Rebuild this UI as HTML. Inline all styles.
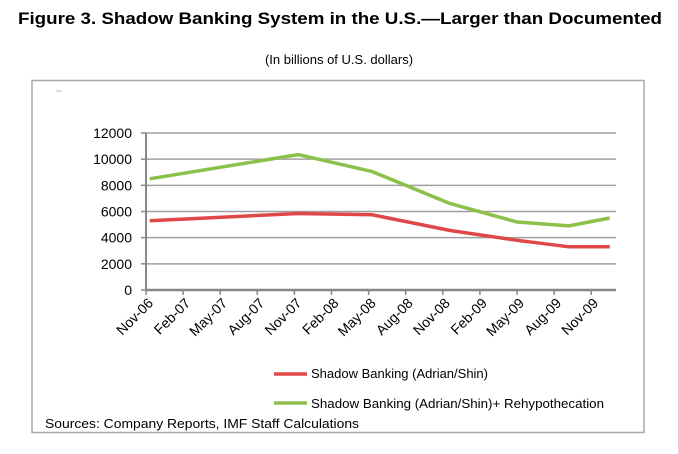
<!DOCTYPE html>
<html><head><meta charset="utf-8"><style>
body{margin:0;background:#fff;width:678px;height:454px;overflow:hidden}
svg{display:block}
</style></head><body>
<svg id="chart" width="678" height="454" xmlns="http://www.w3.org/2000/svg">
<text x="340" y="24" text-anchor="middle" font-family="Liberation Sans, sans-serif" font-weight="bold" font-size="16.3" textLength="644" lengthAdjust="spacingAndGlyphs">Figure 3. Shadow Banking System in the U.S.—Larger than Documented</text>
<text x="339" y="64" text-anchor="middle" font-family="Liberation Sans, sans-serif" font-size="13">(In billions of U.S. dollars)</text>
<rect x="32" y="80.5" width="612" height="352" fill="none" stroke="#aaa" stroke-width="1.5"/>
<line x1="56" y1="91" x2="62" y2="91" stroke="#bbb"/>
<g id="grid"></g><g id="axes"></g><g id="series"></g>
<g>
<line x1="274" y1="374" x2="307" y2="374" stroke="#e04848" stroke-width="3.5"/>
<text x="311" y="378" font-family="Liberation Sans, sans-serif" font-size="13" textLength="177" lengthAdjust="spacingAndGlyphs">Shadow Banking (Adrian/Shin)</text>
<line x1="274" y1="403" x2="307" y2="403" stroke="#8cc04a" stroke-width="3.5"/>
<text x="311" y="408" font-family="Liberation Sans, sans-serif" font-size="13" textLength="293" lengthAdjust="spacingAndGlyphs">Shadow Banking (Adrian/Shin)+ Rehypothecation</text>
</g>
<text x="45" y="428" font-family="Liberation Sans, sans-serif" font-size="13" textLength="314" lengthAdjust="spacingAndGlyphs">Sources: Company Reports, IMF Staff Calculations</text>
</svg>
<script>
const categories=["Nov-06","Feb-07","May-07","Aug-07","Nov-07","Feb-08","May-08","Aug-08","Nov-08","Feb-09","May-09","Aug-09","Nov-09"];
const yTicks=[0,2000,4000,6000,8000,10000,12000];
const redPos=[0.1,4.1,6.1,8.2,10.0,11.4,12.5];
const redVals=[5300,5850,5750,4550,3800,3300,3300];
const greenPos=[0.1,4.1,6.1,8.2,10.0,11.4,12.5];
const greenVals=[8500,10350,9050,6600,5200,4900,5500];
const NS="http://www.w3.org/2000/svg";
const X0=146,X1=616,Y0=290,Y1=133,STEP=37.1;
const xs=p=>X0+p*STEP;
const ys=v=>Y0-(v/12000)*(Y0-Y1);
function mk(tag,attrs,parent){const e=document.createElementNS(NS,tag);for(const k in attrs)e.setAttribute(k,attrs[k]);parent.appendChild(e);return e;}
const grid=document.getElementById('grid'),axes=document.getElementById('axes'),series=document.getElementById('series');
yTicks.forEach(v=>{
  if(v>0){const l=mk('line',{x1:X0,x2:X1,y1:ys(v),y2:ys(v),stroke:'#a0a0a0','stroke-width':1.5},grid);
  
  }
  const tk=mk('line',{x1:X0-5,x2:X0,y1:ys(v),y2:ys(v),stroke:'#888','stroke-width':1.5},axes);
  
  
  const t=mk('text',{x:X0-14,y:ys(v)+5,'text-anchor':'end','font-family':'Liberation Sans, sans-serif','font-size':'14'},axes);
  t.textContent=v;
  
  
});
const ya=mk('line',{x1:X0,x2:X0,y1:Y1,y2:Y0,stroke:'#888','stroke-width':2},axes);


const xa=mk('line',{x1:X0,x2:X1,y1:Y0,y2:Y0,stroke:'#888','stroke-width':2.5},axes);


categories.forEach((c,i)=>{
  const x=xs(i);
  const tk=mk('line',{x1:x,x2:x,y1:Y0,y2:Y0+5,stroke:'#888','stroke-width':1.5},axes);
  
  
  const ax=x+8,ay=Y0+14;
  const t=mk('text',{x:ax,y:ay,'text-anchor':'end','font-family':'Liberation Sans, sans-serif','font-size':'14',transform:'rotate(-45 '+ax+' '+ay+')'},axes);
  t.textContent=c;
  
  
});
function line(pos,vals,color,name){
  const pts=pos.map((p,i)=>xs(p).toFixed(1)+','+ys(vals[i]).toFixed(1)).join(' ');
  const pl=mk('polyline',{points:pts,fill:'none',stroke:color,'stroke-width':3.5,'stroke-linejoin':'round'},series);
  
  
}
line(greenPos,greenVals,'#8cc04a','series-rehypothecation');
line(redPos,redVals,'#e04848','series-adrian-shin');
</script>
</body></html>
